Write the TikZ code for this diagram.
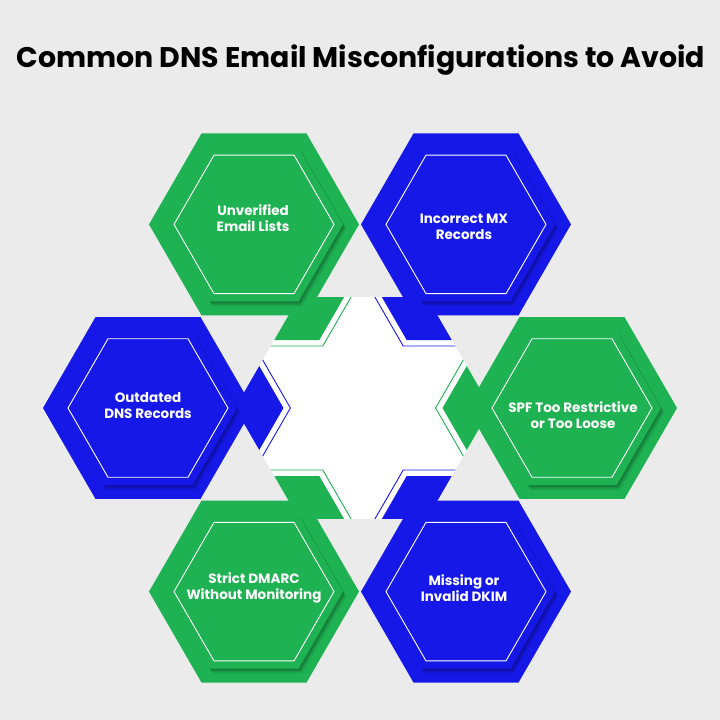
\documentclass[tikz,border=0pt]{standalone}
\usepackage{fontspec}
\setmainfont{Poppins}
\definecolor{bg}{RGB}{235,235,235}
\definecolor{grn}{RGB}{30,178,82}
\definecolor{blu}{RGB}{22,24,232}
\tikzset{
  hexR/.style={insert path={(0:#1) -- (60:#1) -- (120:#1) -- (180:#1) -- (240:#1) -- (300:#1) -- cycle}},
  pics/tile/.style={code={
     \fill[#1] [hexR=105];
     \fill[black,opacity=.06] [shift={(3.5,5)}, hexR=89];
     \fill[black,opacity=.10] [shift={(2.5,3.5)}, hexR=89];
     \fill[black,opacity=.14] [shift={(1.5,2)}, hexR=89];
     \fill[#1] [hexR=89];
     \draw[white,line width=0.9pt] [hexR=80];
  }},
  lbl/.style={text=white, font=\bfseries\fontsize{13.5}{16}\selectfont, align=center, inner sep=0pt},
  edgeline/.style={line width=0.9pt},
}
\begin{document}
\begin{tikzpicture}[x=1pt,y=-1pt]
\useasboundingbox (0,0) rectangle (720,720);
\fill[bg] (0,0) rectangle (720,720);
\node (title) at (361,67) [anchor=base, font=\bfseries\fontsize{28.4}{32}\selectfont] {Common DNS Email Misconfigurations to Avoid};
% central hexagon
\begin{scope}[shift={(363,408)}]
  \fill[white] [hexR=128];
  \begin{scope}
    \clip [hexR=128];
    \fill[grn] (-13.65,-120) -- (-43.67,-68) -- (-140,-68) -- (-140,-120) -- cycle;
    \draw[grn,edgeline] (-9,-116) -- (-40.2,-62) -- (-140,-62);
    \fill[blu] (13.65,-120) -- (43.67,-68) -- (140,-68) -- (140,-120) -- cycle;
    \draw[blu,edgeline] (9,-116) -- (40.2,-62) -- (140,-62);
    \fill[grn] (-13.65,120) -- (-43.67,68) -- (-140,68) -- (-140,120) -- cycle;
    \draw[grn,edgeline] (-9,116) -- (-40.2,62) -- (-140,62);
    \fill[blu] (13.65,120) -- (43.67,68) -- (140,68) -- (140,120) -- cycle;
    \draw[blu,edgeline] (9,116) -- (40.2,62) -- (140,62);
    \fill[blu] (-79.53,0) -- (-117.06,-65) -- (-140,-65) -- (-140,65) -- (-117.06,65) -- cycle;
    \draw[blu,edgeline] (-110.1,-65) -- (-72.6,0) -- (-110.1,65);
    \fill[grn] (79.53,0) -- (117.06,-65) -- (140,-65) -- (140,65) -- (117.06,65) -- cycle;
    \draw[grn,edgeline] (110.1,-65) -- (72.6,0) -- (110.1,65);
  \end{scope}
\end{scope}
% outer tiles
\pic at (254,224.4) {tile=grn};
\pic at (466,224.4) {tile=blu};
\pic at (148,408) {tile=blu};
\pic at (572,408) {tile=grn};
\pic at (254,591.6) {tile=grn};
\pic at (466,591.6) {tile=blu};
% labels
\node[lbl] (l1) at (253,218) {Unverified\\Email Lists};
\node[lbl] (l2) at (464,227) {Incorrect MX\\Records};
\node[lbl] (l3) at (148,406) {Outdated\\DNS Records};
\node[lbl] (l4) at (573,415) {SPF Too Restrictive\\or Too Loose};
\node[lbl] (l5) at (254,588) {Strict DMARC\\Without Monitoring};
\node[lbl] (l6) at (464,588) {Missing or\\Invalid DKIM};
\end{tikzpicture}
\end{document}
